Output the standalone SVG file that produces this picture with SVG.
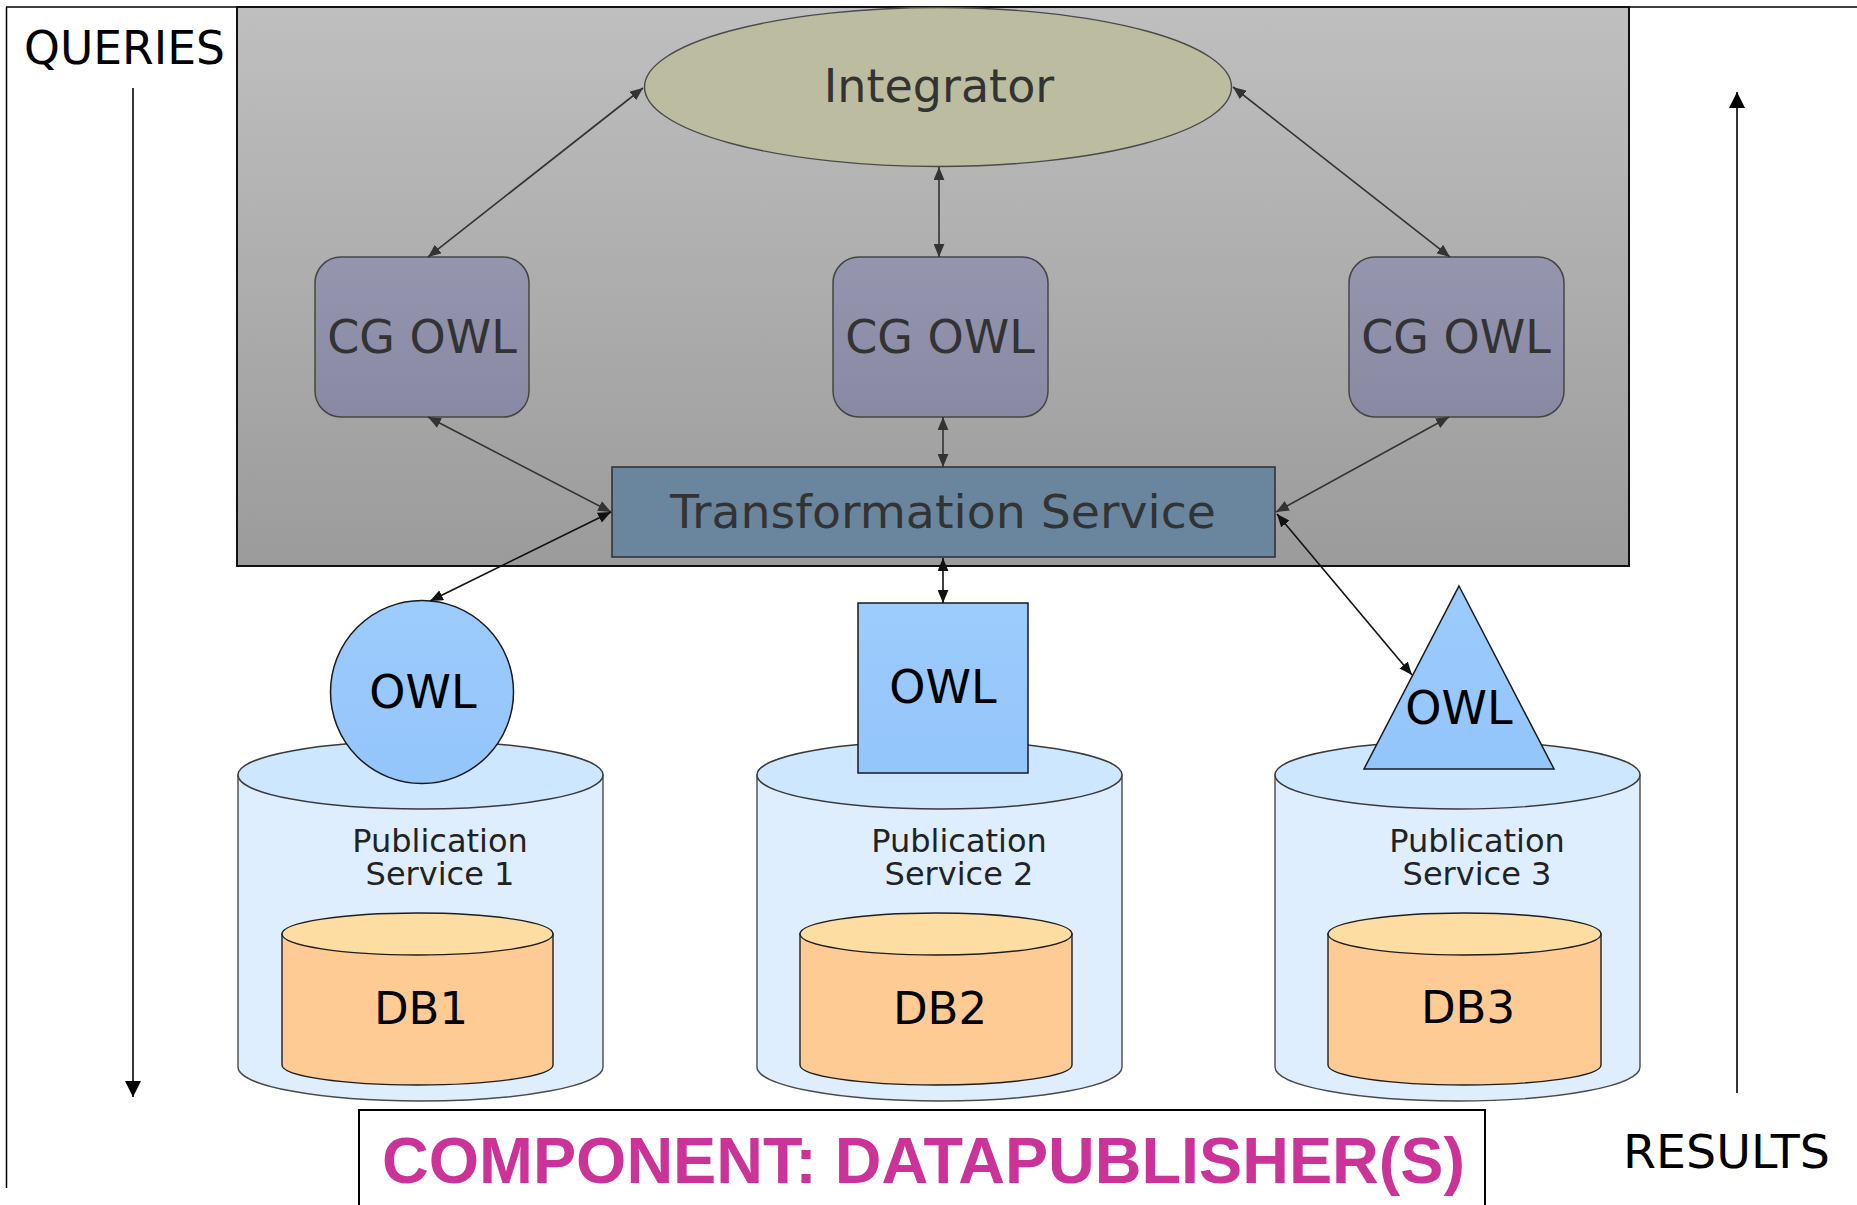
<svg xmlns="http://www.w3.org/2000/svg" width="1857" height="1205" viewBox="0 0 1857 1205">
  <defs>
    <linearGradient id="panelGrad" x1="0" y1="0" x2="0" y2="1">
      <stop offset="0" stop-color="#bfbfbf"/>
      <stop offset="1" stop-color="#9b9b9b"/>
    </linearGradient>
    <linearGradient id="cgGrad" x1="0" y1="0" x2="0" y2="1">
      <stop offset="0" stop-color="#9595ae"/>
      <stop offset="1" stop-color="#8989a4"/>
    </linearGradient>
    <linearGradient id="owlGrad" x1="0" y1="0" x2="0" y2="1">
      <stop offset="0" stop-color="#9ccbfd"/>
      <stop offset="1" stop-color="#94c5fb"/>
    </linearGradient>
    <marker id="ah" viewBox="0 0 12 10" refX="12" refY="5" markerWidth="13" markerHeight="11" markerUnits="userSpaceOnUse" orient="auto-start-reverse">
      <path d="M0,0 L12,5 L0,10 z" fill="#333"/>
    </marker>
    <marker id="ahb" viewBox="0 0 12 10" refX="12" refY="5" markerWidth="13" markerHeight="11" markerUnits="userSpaceOnUse" orient="auto-start-reverse">
      <path d="M0,0 L12,5 L0,10 z" fill="#111"/>
    </marker>
    <marker id="flow" viewBox="0 0 16 16" refX="16" refY="8" markerWidth="16" markerHeight="16" markerUnits="userSpaceOnUse" orient="auto">
      <path d="M0,0 L16,8 L0,16 z" fill="#000"/>
    </marker>
  </defs>
  <style>
    text { font-family: "DejaVu Sans", "Noto Sans", sans-serif; }
    .big { font-size: 46px; fill: #333; text-anchor: middle; }
    .owl { font-size: 46px; fill: #000; text-anchor: middle; }
    .db { font-size: 45px; fill: #000; text-anchor: middle; }
    .pub { font-size: 32px; fill: #222; text-anchor: middle; }
    .side { font-size: 46px; fill: #000; }
    .cg { fill: url(#cgGrad); stroke: #454545; stroke-width: 1.5; }
    .owlshape { fill: url(#owlGrad); stroke: #1a1a1a; stroke-width: 1.5; }
    .cylbody { fill: #deeeff; stroke: #4a4a4a; stroke-width: 1.4; }
    .cyltop { fill: #cce7ff; stroke: #3a3a3a; stroke-width: 1.4; }
    .dbbody { fill: #fecb95; stroke: #1e1e1e; stroke-width: 1.4; }
    .dbtop { fill: #fedda3; stroke: #1e1e1e; stroke-width: 1.4; }
    .link { stroke: #333; stroke-width: 1.6; fill: none; marker-start: url(#ah); marker-end: url(#ah); }
    .linkb { stroke: #111; stroke-width: 1.6; fill: none; marker-start: url(#ahb); marker-end: url(#ahb); }
    .frame { stroke: #000; stroke-width: 1.5; fill: none; }
  </style>

  <rect x="0" y="0" width="1857" height="1205" fill="#fff"/>

  <!-- outer frame lines -->
  <g id="frame">
    <line class="frame" x1="6.5" y1="7" x2="6.5" y2="1188"/>
    <line class="frame" x1="6" y1="7" x2="1857" y2="7"/>
  </g>

  <!-- query / result flow arrows -->
  <g id="queries">
    <text class="side" x="24" y="64" textLength="201" lengthAdjust="spacingAndGlyphs">QUERIES</text>
    <line x1="133" y1="88" x2="133" y2="1097" stroke="#000" stroke-width="1.6" marker-end="url(#flow)"/>
  </g>
  <g id="results">
    <text class="side" x="1623" y="1168" textLength="207" lengthAdjust="spacingAndGlyphs">RESULTS</text>
    <line x1="1737" y1="1093" x2="1737" y2="92" stroke="#000" stroke-width="1.6" marker-end="url(#flow)"/>
  </g>

  <!-- integration panel -->
  <g id="panel">
    <rect x="237" y="7" width="1392" height="559" fill="url(#panelGrad)" stroke="#111" stroke-width="2"/>
  </g>

  <g id="integrator">
    <ellipse cx="938" cy="87" rx="293.5" ry="79.5" fill="#bbbca0" stroke="#4a4a4a" stroke-width="1.4"/>
    <text class="big" x="939" y="102">Integrator</text>
  </g>

  <g id="cgowl1">
    <rect class="cg" x="315" y="257" width="214" height="160" rx="26"/>
    <text class="big" x="422" y="353">CG OWL</text>
  </g>
  <g id="cgowl2">
    <rect class="cg" x="833" y="257" width="215" height="160" rx="26"/>
    <text class="big" x="940" y="353">CG OWL</text>
  </g>
  <g id="cgowl3">
    <rect class="cg" x="1349" y="257" width="215" height="160" rx="26"/>
    <text class="big" x="1456" y="353">CG OWL</text>
  </g>

  <g id="transformation">
    <rect x="612" y="467" width="663" height="90" fill="#6a869f" stroke="#333" stroke-width="1.6"/>
    <text class="big" x="943" y="528" fill="#2a2a2a" textLength="546" lengthAdjust="spacingAndGlyphs">Transformation Service</text>
  </g>

  <!-- publication services -->
  <g id="pub1">
    <path class="cylbody" d="M238,775 L238,1067 A182.5,34 0 0 0 603,1067 L603,775 Z"/>
    <ellipse class="cyltop" cx="420.5" cy="775" rx="182.5" ry="34"/>
    <text class="pub" x="440" y="852">Publication</text>
    <text class="pub" x="440" y="885">Service 1</text>
  </g>
  <g id="db1">
    <path class="dbbody" d="M282,934 L282,1065 A135.5,20 0 0 0 553,1065 L553,934 Z"/>
    <ellipse class="dbtop" cx="417.5" cy="934" rx="135.5" ry="21"/>
    <text class="db" x="421" y="1024">DB1</text>
  </g>
  <g id="owl1">
    <circle class="owlshape" cx="422" cy="692" r="91.5"/>
    <text class="owl" x="423" y="708">OWL</text>
  </g>

  <g id="pub2">
    <path class="cylbody" d="M757,775 L757,1067 A182.5,34 0 0 0 1122,1067 L1122,775 Z"/>
    <ellipse class="cyltop" cx="939.5" cy="775" rx="182.5" ry="34"/>
    <text class="pub" x="959" y="852">Publication</text>
    <text class="pub" x="959" y="885">Service 2</text>
  </g>
  <g id="db2">
    <path class="dbbody" d="M800,934 L800,1065 A136,20 0 0 0 1072,1065 L1072,934 Z"/>
    <ellipse class="dbtop" cx="936" cy="934" rx="136" ry="21"/>
    <text class="db" x="940" y="1024">DB2</text>
  </g>
  <g id="owl2">
    <rect class="owlshape" x="858" y="603" width="170" height="170"/>
    <text class="owl" x="943" y="703">OWL</text>
  </g>

  <g id="pub3">
    <path class="cylbody" d="M1275,775 L1275,1067 A182.5,34 0 0 0 1640,1067 L1640,775 Z"/>
    <ellipse class="cyltop" cx="1457.5" cy="775" rx="182.5" ry="34"/>
    <text class="pub" x="1477" y="852">Publication</text>
    <text class="pub" x="1477" y="885">Service 3</text>
  </g>
  <g id="db3">
    <path class="dbbody" d="M1328,934 L1328,1065 A136.5,20 0 0 0 1601,1065 L1601,934 Z"/>
    <ellipse class="dbtop" cx="1464.5" cy="934" rx="136.5" ry="21"/>
    <text class="db" x="1468" y="1023">DB3</text>
  </g>
  <g id="owl3">
    <polygon class="owlshape" points="1459,586 1554,769 1364,769"/>
    <text class="owl" x="1459" y="724">OWL</text>
  </g>

  <!-- connectors -->
  <g id="connectors">
    <line class="link" x1="643" y1="88" x2="428" y2="257"/>
    <line class="link" x1="1233" y1="87" x2="1450" y2="257"/>
    <line class="link" x1="939" y1="167" x2="939" y2="257"/>
    <line class="link" x1="428" y1="417" x2="611" y2="512"/>
    <line class="link" x1="943" y1="417" x2="943" y2="467"/>
    <line class="link" x1="1449" y1="417" x2="1276" y2="512"/>
    <line class="linkb" x1="611" y1="512" x2="430" y2="601"/>
    <line class="linkb" x1="943" y1="558" x2="943" y2="603" stroke-width="2.6"/>
    <line class="linkb" x1="1277" y1="514" x2="1412" y2="675"/>
  </g>

  <!-- component caption -->
  <g id="caption">
    <rect x="359" y="1110" width="1126" height="110" fill="#fff" stroke="#000" stroke-width="2"/>
    <text x="382" y="1183" textLength="1083" lengthAdjust="spacingAndGlyphs" style="font-family: 'Liberation Sans', Arial, sans-serif; font-weight: bold; font-size: 64px; fill: #cc3399;">COMPONENT: DATAPUBLISHER(S)</text>
  </g>
</svg>
